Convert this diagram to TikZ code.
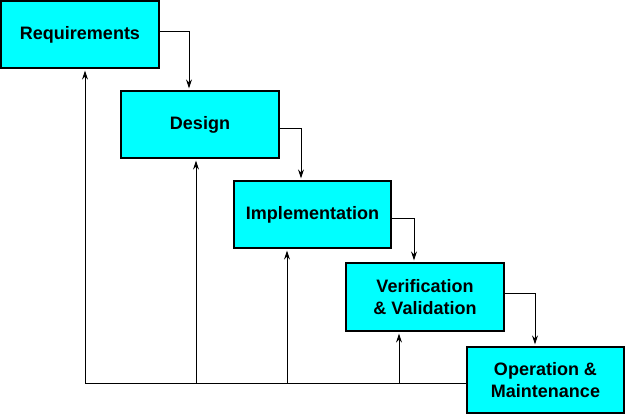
\documentclass[tikz,border=0pt]{standalone}
\usepackage{fontspec}
\setmainfont{Liberation Sans}
\usetikzlibrary{arrows.meta}
\definecolor{boxcyan}{RGB}{0,255,255}
\begin{document}
\begin{tikzpicture}[x=1pt,y=-1pt,
  box/.style={draw, line width=1.2pt, fill=boxcyan, align=center, inner sep=0pt,
    font=\bfseries\fontsize{18}{22}\selectfont, minimum width=158pt, minimum height=67pt},
  link/.style={line width=1pt},
  arr/.style={line width=1pt, -{Stealth[length=9pt,width=6pt]}, shorten >=2pt}]
\useasboundingbox (0,0) rectangle (625,415);
\node[box] (req) at (80,34.5) {Requirements};
\node[box] (des) at (200,124.5) {Design};
\node[box, minimum width=157pt] (imp) at (312.5,214.5) {Implementation};
\node[box, minimum height=68pt] (vv) at (425,297) {Verification\\\& Validation};
\node[box, minimum width=157pt, minimum height=66pt] (om) at (545.5,380) {Operation \&\\Maintenance};
% forward flow
\draw[arr] ([yshift=3.5pt]req.east) -| ([xshift=-11pt]des.north);
\draw[arr] ([yshift=-3.5pt]des.east) -| ([xshift=-11.5pt]imp.north);
\draw[arr] ([yshift=-3.5pt]imp.east) -| ([xshift=-11pt]vv.north);
\draw[arr] ([yshift=4pt]vv.east) -| ([xshift=-10.5pt]om.north);
% feedback
\coordinate (f1) at (85,383);
\coordinate (f2) at (196,383);
\coordinate (f3) at (287,383);
\coordinate (f4) at (399,383);
\draw[link] ([yshift=-3pt]om.west) -- (f1);
\draw[arr] (f1) -- (f1 |- req.south);
\draw[arr] (f2) -- (f2 |- des.south);
\draw[arr] (f3) -- (f3 |- imp.south);
\draw[arr] (f4) -- (f4 |- vv.south);
\end{tikzpicture}
\end{document}
